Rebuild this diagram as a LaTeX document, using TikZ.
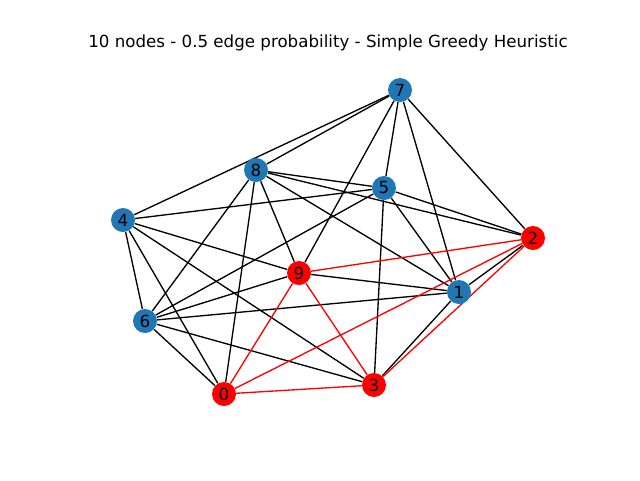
\documentclass[tikz,border=0pt]{standalone}
\usepackage{fontspec}
\setmainfont{DejaVu Sans}
\usetikzlibrary{backgrounds}
\definecolor{nxblue}{HTML}{1F77B4}
\tikzset{
	vtx/.style={circle, minimum size=18pt, inner sep=0pt,
		font=\fontsize{12.5}{15}\selectfont},
	bluevtx/.style={vtx, fill=nxblue},
	redvtx/.style={vtx, fill=red},
	plain/.style={line width=1pt, black},
	chosen/.style={line width=1pt, red}
}

\begin{document}
\begin{tikzpicture}[x=0.75pt, y=-0.75pt]
	\useasboundingbox (0,0) rectangle (640,480);
	\node[font=\fontsize{12.5}{15}\selectfont] (title) at (328,43)
	{10 nodes - 0.5 edge probability - Simple Greedy Heuristic};
	\node[redvtx] (n0) at (224,394) {0};
	\node[bluevtx] (n1) at (459,292) {1};
	\node[redvtx] (n2) at (533,238) {2};
	\node[redvtx] (n3) at (374,385) {3};
	\node[bluevtx] (n4) at (123,220) {4};
	\node[bluevtx] (n5) at (384,188) {5};
	\node[bluevtx] (n6) at (145,321) {6};
	\node[bluevtx] (n7) at (400,90) {7};
	\node[bluevtx] (n8) at (256,170) {8};
	\node[redvtx] (n9) at (299,273) {9};
	\begin{scope}[on background layer]
		\foreach \a/\b in {0/8, 0/4, 0/6, 1/7, 1/8, 1/5, 1/9, 1/6, 1/2, 1/3,
			2/7, 2/8, 2/5, 3/4, 3/6, 3/5, 4/7, 4/5, 4/9, 4/6,
			5/7, 5/8, 5/6, 6/8, 6/9, 7/8, 7/9, 8/9}
		\draw[plain] (n\a) -- (n\b);
		\foreach \a/\b in {0/9, 0/2, 0/3, 2/9, 2/3, 3/9}
		\draw[chosen] (n\a) -- (n\b);
	\end{scope}
\end{tikzpicture}
\end{document}
